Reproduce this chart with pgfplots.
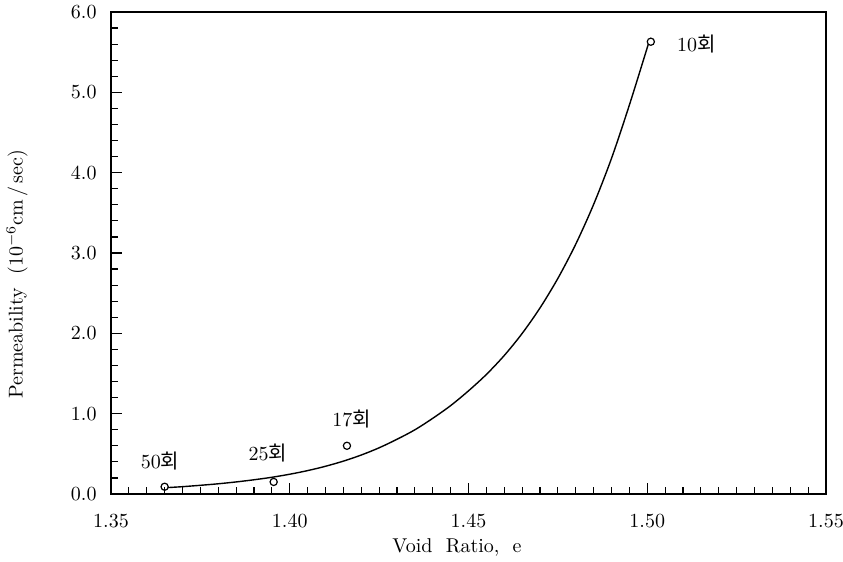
\documentclass[border=0pt]{standalone}
\usepackage{pgfplots}
\pgfplotsset{compat=1.18}
\usepackage{fontspec}
\newfontfamily\kr{Noto Sans CJK KR}
\begin{document}
\begin{tikzpicture}
\begin{axis}[
  name=ax,
  scale only axis,
  width=357.5pt, height=241pt,
  xmin=1.35, xmax=1.55, ymin=0, ymax=6,
  xtick={1.35,1.40,1.45,1.50,1.55},
  ytick={0,1,2,3,4,5,6},
  minor x tick num=9,
  minor y tick num=4,
  xtick pos=bottom, ytick pos=left,
  tick align=inside,
  major tick length=5.5pt, minor tick length=3.5pt,
  axis line style={line width=0.8pt},
  every tick/.style={line width=0.6pt, black},
  xticklabel style={/pgf/number format/fixed, /pgf/number format/fixed zerofill, /pgf/number format/precision=2, anchor=base, yshift=-17pt},
  yticklabel style={/pgf/number format/fixed, /pgf/number format/fixed zerofill, /pgf/number format/precision=1, anchor=east, xshift=-3.7pt},
  xlabel={Void\ \ Ratio,\ \ e},
  ylabel={Permeability\ \ (10$^{-6}$cm\,/\,sec)},
  xlabel style={at={(axis description cs:0.484,0)}, anchor=base, yshift=-29.5pt},
  ylabel style={at={(axis description cs:-0.1315,0.456)}, anchor=center},
  clip=false,
]
\addplot[black, line width=0.7pt, smooth] coordinates {
(1.366,0.080) (1.370,0.091) (1.375,0.108) (1.380,0.127) (1.385,0.150)
(1.390,0.177) (1.395,0.208) (1.400,0.246) (1.405,0.291) (1.410,0.345)
(1.415,0.409) (1.420,0.485) (1.425,0.575) (1.430,0.681) (1.435,0.799)
(1.440,0.942) (1.445,1.100) (1.450,1.284) (1.455,1.488) (1.460,1.724)
(1.465,1.998) (1.470,2.316) (1.475,2.684) (1.480,3.110) (1.485,3.605)
(1.490,4.178) (1.495,4.842) (1.5003,5.60)
};
\addplot[only marks, mark=o, mark size=1.8pt, black, line width=0.6pt] coordinates {
(1.3650,0.09) (1.3955,0.15) (1.4160,0.60) (1.5010,5.63)
};
\node at (axis cs:1.3637,0.41) {50{\kr 회}};
\node at (axis cs:1.3939,0.51) {25{\kr 회}};
\node at (axis cs:1.4173,0.93) {17{\kr 회}};
\node at (axis cs:1.5137,5.60) {10{\kr 회}};
\end{axis}
\pgfresetboundingbox
\path ([xshift=-55.5pt,yshift=-34pt]ax.south west) rectangle ([xshift=8.5pt,yshift=6pt]ax.north east);
\end{tikzpicture}
\end{document}
